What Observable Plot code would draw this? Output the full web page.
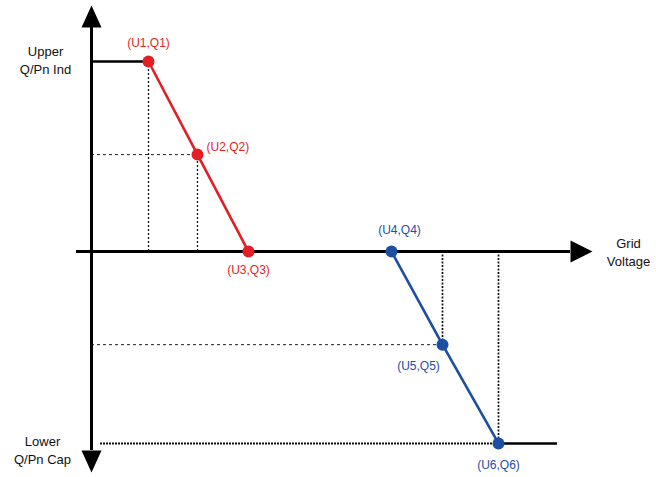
<!DOCTYPE html>
<html><head><meta charset="utf-8">
<script src="https://cdn.jsdelivr.net/npm/d3@7"></script>
<script src="https://cdn.jsdelivr.net/npm/@observablehq/plot@0.6"></script>
<style>body{margin:0;background:#fff;font-family:"Liberation Sans",Arial,sans-serif}</style>
</head><body><div id="chart"></div>
<script>
// Red (inductive) droop points
const redLabels = ["(U1,Q1)", "(U2,Q2)", "(U3,Q3)"];
const redU = [0.57, 1.06, 1.57];
const redQ = [1.0, 0.51, 0.0];
// Blue (capacitive) droop points
const blueLabels = ["(U4,Q4)", "(U5,Q5)", "(U6,Q6)"];
const blueU = [3.0, 3.51, 4.07];
const blueQ = [0.0, -0.49, -1.01];
// Axis titles
const yTopTitle = "Upper\nQ/Pn Ind";
const yBottomTitle = "Lower\nQ/Pn Cap";
const xTitle = "Grid\nVoltage";
// Axis extents (data units)
const xAxisStart = -0.15, xAxisEnd = 5.01, xArrowBase = 4.79;
const yAxisTop = 1.295, yArrowTopBase = 1.179, yAxisBottom = -1.163, yArrowBottomBase = -1.047;
const upperLimitStart = 0, lowerLimitEnd = 4.66, lowerDottedStart = 0.09;
const arrowHalfW = 0.1, arrowHalfH = 0.058;

const red = "#e31e24", blue = "#1d4ea2";
const redPts = redU.map((u, i) => ({u, q: redQ[i], label: redLabels[i]}));
const bluePts = blueU.map((u, i) => ({u, q: blueQ[i], label: blueLabels[i]}));

const upArrow = [{u: -arrowHalfW, q: yArrowTopBase}, {u: 0, q: yAxisTop}, {u: arrowHalfW, q: yArrowTopBase}];
const downArrow = [{u: -arrowHalfW, q: yArrowBottomBase}, {u: 0, q: yAxisBottom}, {u: arrowHalfW, q: yArrowBottomBase}];
const rightArrow = [{u: xArrowBase, q: arrowHalfH}, {u: xAxisEnd, q: 0}, {u: xArrowBase, q: -arrowHalfH}];

const font = "Liberation Sans, Arial, sans-serif";

const chart = Plot.plot({
  width: 656, height: 477,
  margin: 0,
  x: {domain: [-0.91, 5.65], axis: null},
  y: {domain: [-1.189, 1.321], axis: null},
  style: {fontFamily: font, background: "#fff"},
  marks: [
    // guide lines
    Plot.ruleX([redPts[0]], {x: "u", y1: 0, y2: "q", stroke: "#111", strokeWidth: 1.3, strokeDasharray: "2,2"}),
    Plot.ruleX([redPts[1]], {x: "u", y1: 0, y2: "q", stroke: "#111", strokeWidth: 1.3, strokeDasharray: "2,2"}),
    Plot.ruleY([redPts[1]], {y: "q", x1: 0, x2: "u", stroke: "#222", strokeWidth: 1, strokeDasharray: "3,3"}),
    Plot.ruleX([bluePts[1]], {x: "u", y1: 0, y2: "q", stroke: "#111", strokeWidth: 1.7, strokeDasharray: "2,1.5"}),
    Plot.ruleX([bluePts[2]], {x: "u", y1: 0, y2: "q", stroke: "#111", strokeWidth: 1.7, strokeDasharray: "2,1.5"}),
    Plot.ruleY([bluePts[1]], {y: "q", x1: 0, x2: "u", stroke: "#222", strokeWidth: 1, strokeDasharray: "3,3"}),
    Plot.ruleY([bluePts[2]], {y: "q", x1: lowerDottedStart, x2: "u", stroke: "#111", strokeWidth: 2.2, strokeDasharray: "2,1"}),
    // limit segments
    Plot.ruleY([redPts[0]], {y: "q", x1: upperLimitStart, x2: "u", stroke: "#000", strokeWidth: 2.6}),
    Plot.ruleY([bluePts[2]], {y: "q", x1: "u", x2: lowerLimitEnd, stroke: "#000", strokeWidth: 2.6}),
    // axes
    Plot.ruleY([0], {x1: xAxisStart, x2: xArrowBase, stroke: "#000", strokeWidth: 3}),
    Plot.ruleX([0], {y1: yArrowBottomBase, y2: yArrowTopBase, stroke: "#000", strokeWidth: 3}),
    Plot.line(upArrow, {x: "u", y: "q", fill: "#000", stroke: "none"}),
    Plot.line(downArrow, {x: "u", y: "q", fill: "#000", stroke: "none"}),
    Plot.line(rightArrow, {x: "u", y: "q", fill: "#000", stroke: "none"}),
    // droop curves
    Plot.line(redPts, {x: "u", y: "q", stroke: red, strokeWidth: 2.6}),
    Plot.line(bluePts, {x: "u", y: "q", stroke: blue, strokeWidth: 2.6}),
    Plot.dot(redPts, {x: "u", y: "q", r: 6, fill: red, stroke: "none"}),
    Plot.dot(bluePts, {x: "u", y: "q", r: 6, fill: blue, stroke: "none"}),
    // point labels
    Plot.text([redPts[0]], {x: "u", y: "q", text: "label", dy: -18, fill: red, fontSize: 12}),
    Plot.text([redPts[1]], {x: "u", y: "q", text: "label", dx: 9, dy: -7, textAnchor: "start", fill: red, fontSize: 12}),
    Plot.text([redPts[2]], {x: "u", y: "q", text: "label", dy: 19, fill: red, fontSize: 12}),
    Plot.text([bluePts[0]], {x: "u", y: "q", text: "label", dx: 8, dy: -21, fill: blue, fontSize: 12}),
    Plot.text([bluePts[1]], {x: "u", y: "q", text: "label", dx: -24, dy: 21, fill: blue, fontSize: 12}),
    Plot.text([bluePts[2]], {x: "u", y: "q", text: "label", dy: 22, fill: blue, fontSize: 12}),
    // axis titles
    Plot.text([yTopTitle], {x: 0, y: redQ[0], text: d => d, dx: -46, dy: -2, fill: "#111", fontSize: 13, lineHeight: 1.4}),
    Plot.text([yBottomTitle], {x: 0, y: blueQ[2], text: d => d, dx: -49, dy: 6, fill: "#111", fontSize: 13, lineHeight: 1.4}),
    Plot.text([xTitle], {x: xAxisEnd, y: 0, text: d => d, dx: 36, dy: 0, fill: "#111", fontSize: 13, lineHeight: 1.4})
  ]
});
document.getElementById("chart").append(chart);
</script>
</body></html>
